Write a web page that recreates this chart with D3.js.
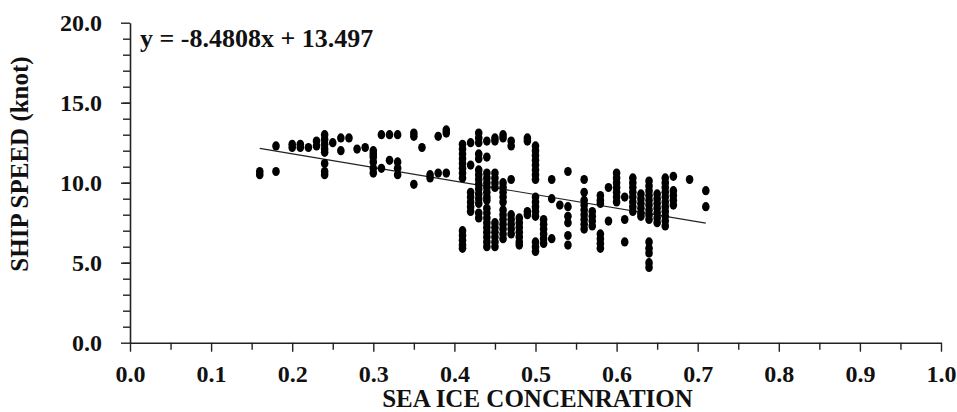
<!DOCTYPE html>
<html>
<head>
<meta charset="utf-8">
<script src="https://cdn.jsdelivr.net/npm/d3@7"></script>
<style>
  body { margin: 0; background: #fff; }
  svg text { font-family: "Liberation Serif", "Times New Roman", serif; font-weight: bold; fill: #111; }
</style>
</head>
<body>
<div id="chart"></div>
<script>
// sea ice concentration columns and the ship speeds (knot) read at each one
var iceColumns = [0.16, 0.18, 0.20, 0.21, 0.22, 0.23, 0.24, 0.25, 0.26, 0.27, 0.28, 0.29, 0.30, 0.31, 0.32, 0.33,
  0.35, 0.36, 0.37, 0.38, 0.39, 0.41, 0.42, 0.43, 0.44, 0.45, 0.46, 0.47, 0.48, 0.49, 0.50, 0.51, 0.52, 0.53, 0.54,
  0.56, 0.57, 0.58, 0.59, 0.60, 0.61, 0.62, 0.63, 0.64, 0.65, 0.66, 0.67, 0.69, 0.71];
var speedColumns = [
  [10.5, 10.7], [12.3, 10.7], [12.4, 12.2], [12.4, 12.2], [12.2], [12.6, 12.3],
  [13.0, 12.7, 12.4, 12.1, 11.9, 11.2, 10.7, 10.5], [12.5], [12.8, 12.0], [12.8], [12.1], [12.2],
  [12.0, 11.8, 11.6, 11.3, 10.9, 10.6], [13.0, 10.9], [13.0, 11.4], [13.0, 11.3, 10.9, 10.5],
  [13.1, 12.9, 9.9], [12.2], [10.5, 10.3], [12.9, 10.6], [13.3, 13.1, 10.6],
  [12.4, 12.1, 11.8, 11.5, 11.2, 10.9, 10.6, 10.3, 7.0, 6.7, 6.4, 6.1, 5.9],
  [12.5, 11.1, 9.4, 9.1, 8.8, 8.5, 8.2],
  [13.1, 12.8, 12.5, 11.8, 11.5, 10.8, 10.5, 10.2, 9.9, 9.6, 9.3, 9.0, 8.7, 8.1, 7.8],
  [12.6, 11.6, 10.6, 10.3, 10.0, 9.7, 9.4, 9.1, 8.9, 8.4, 8.1, 7.8, 7.5, 7.2, 6.9, 6.6, 6.3, 6.0],
  [12.8, 12.6, 10.6, 10.3, 10.0, 9.7, 7.5, 7.2, 6.9, 6.6, 6.3, 6.0],
  [13.0, 12.8, 10.0, 9.7, 9.4, 9.1, 8.8, 8.3, 8.0, 7.7, 7.4, 7.1, 6.8, 6.5],
  [12.6, 12.3, 10.2, 8.0, 7.7, 7.4, 7.1, 6.8],
  [7.8, 7.5, 7.2, 6.9, 6.6, 6.3, 6.1],
  [12.8, 12.6, 8.2, 8.0],
  [12.3, 12.0, 11.7, 11.4, 11.1, 10.8, 10.5, 10.2, 9.1, 8.8, 8.5, 8.2, 7.9, 6.3, 6.0, 5.7],
  [7.7, 7.4, 7.1, 6.8, 6.5, 6.2],
  [10.2, 9.0, 6.5], [8.6],
  [10.7, 8.5, 7.9, 7.5, 6.7, 6.1],
  [10.2, 9.4, 8.9, 8.6, 8.3, 8.0, 7.7, 7.4, 7.1],
  [8.2, 7.9, 7.6, 7.3],
  [9.2, 8.9, 8.7, 6.8, 6.5, 6.2, 5.9],
  [9.7, 7.6],
  [10.6, 10.3, 10.0, 9.7, 9.4, 9.1, 8.8],
  [9.1, 7.7, 6.3],
  [10.3, 10.0, 9.7, 9.4, 9.1, 8.8, 8.5, 8.2],
  [9.3, 9.0, 8.7, 8.4, 8.1, 7.9],
  [10.1, 9.8, 9.5, 9.2, 8.9, 8.6, 8.3, 8.0, 7.7, 6.3, 5.9, 5.6, 5.0, 4.7],
  [9.3, 9.0, 8.7, 8.4, 8.1, 7.8, 7.5],
  [10.3, 10.0, 9.7, 9.4, 9.1, 8.8, 8.5, 8.2, 7.9, 7.6, 7.3],
  [10.4, 9.5, 9.2, 8.9, 8.6],
  [10.2],
  [9.5, 8.5]
];
// fitted line y = -8.4808x + 13.497 over the observed range
var fitSlope = -8.4808, fitIntercept = 13.497;
var fitRange = [0.16, 0.71];
var xMajorTicks = [0, 0.1, 0.2, 0.3, 0.4, 0.5, 0.6, 0.7, 0.8, 0.9, 1.0];
var yMajorTicks = [0, 5, 10, 15, 20];

var width = 957, height = 412;
var points = [];
iceColumns.forEach(function(c, i) {
  speedColumns[i].forEach(function(s) { points.push({ice: c, speed: s}); });
});

var x = d3.scaleLinear().domain([0, 1]).range([130, 941]);
var y = d3.scaleLinear().domain([0, 20]).range([342.7, 22.7]);

var svg = d3.select('#chart').append('svg')
  .attr('width', width).attr('height', height);

// minor ticks first, then the labelled ones on top
svg.append('g').attr('class', 'minor')
  .attr('transform', 'translate(0,' + y(0) + ')')
  .call(d3.axisBottom(x).tickValues(d3.range(0.05, 1, 0.1)).tickSize(7).tickFormat(''));
svg.append('g').attr('class', 'minor')
  .attr('transform', 'translate(' + x(0) + ',0)')
  .call(d3.axisLeft(y).tickValues(d3.range(1, 20, 1)).tickSize(7).tickFormat(''));

svg.append('g')
  .attr('transform', 'translate(0,' + y(0) + ')')
  .call(d3.axisBottom(x).tickValues(xMajorTicks).tickSize(9).tickSizeOuter(0)
    .tickPadding(13).tickFormat(d3.format('.1f')));
svg.append('g')
  .attr('transform', 'translate(' + x(0) + ',0)')
  .call(d3.axisLeft(y).tickValues(yMajorTicks).tickSize(9).tickSizeOuter(0)
    .tickPadding(19).tickFormat(d3.format('.1f')));

svg.selectAll('.domain').attr('stroke', '#222').attr('stroke-width', 1.6);
svg.selectAll('.tick line').attr('stroke', '#222').attr('stroke-width', 1.4);
svg.selectAll('.minor .domain').remove();
svg.selectAll('.tick text').attr('font-size', 24).attr('fill', '#111');

// trend line
svg.append('line')
  .attr('x1', x(fitRange[0])).attr('y1', y(fitSlope * fitRange[0] + fitIntercept))
  .attr('x2', x(fitRange[1])).attr('y2', y(fitSlope * fitRange[1] + fitIntercept))
  .attr('stroke', '#222').attr('stroke-width', 1.2);

svg.append('g').selectAll('ellipse')
  .data(points).enter().append('ellipse')
  .attr('cx', function(d) { return x(d.ice); })
  .attr('cy', function(d) { return y(d.speed); })
  .attr('rx', 3.8).attr('ry', 4.6)
  .attr('fill', '#000');

svg.append('text')
  .attr('x', 140).attr('y', 47)
  .attr('font-size', 26)
  .text('y = -8.4808x + 13.497');

svg.append('text')
  .attr('x', (x(0) + x(1)) / 2 + 2).attr('y', 407)
  .attr('text-anchor', 'middle').attr('font-size', 25)
  .text('SEA ICE CONCENRATION');

svg.append('text')
  .attr('transform', 'translate(28,164) rotate(-90)')
  .attr('text-anchor', 'middle').attr('font-size', 25)
  .text('SHIP SPEED (knot)');
</script>
</body>
</html>
